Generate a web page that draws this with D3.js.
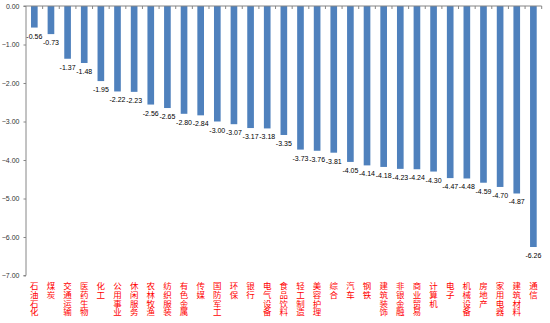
<!DOCTYPE html>
<html><head><meta charset="utf-8">
<script src="https://cdn.jsdelivr.net/npm/d3@7"></script>
<style>body{margin:0;background:#fff}svg{display:block}</style>
</head><body>
<script>
const categories = ["石油石化","煤炭","交通运输","医药生物","化工","公用事业","休闲服务","农林牧渔","纺织服装","有色金属","传媒","国防军工","环保","银行","电气设备","食品饮料","轻工制造","美容护理","综合","汽车","钢铁","建筑装饰","非银金融","商业贸易","计算机","电子","机械设备","房地产","家用电器","建筑材料","通信"];
const values = [-0.56,-0.73,-1.37,-1.48,-1.95,-2.22,-2.23,-2.56,-2.65,-2.80,-2.84,-3.00,-3.07,-3.17,-3.18,-3.35,-3.73,-3.76,-3.81,-4.05,-4.14,-4.18,-4.23,-4.24,-4.30,-4.47,-4.48,-4.59,-4.70,-4.87,-6.26];
const yTicks = [0,-1,-2,-3,-4,-5,-6,-7];

const W = 550, H = 323;
const svg = d3.select("body").append("svg").attr("width", W).attr("height", H);

const xb = d3.scaleBand().domain(categories).range([26, 541.7]);
const y = d3.scaleLinear().domain([0, -7]).range([6, 275.5]);

// bars
svg.selectAll("rect.bar").data(values).enter().append("rect")
  .attr("x", (d,i) => xb(categories[i]) + xb.bandwidth()*0.3)
  .attr("width", xb.bandwidth()*0.4)
  .attr("y", y(0))
  .attr("height", d => y(d) - y(0))
  .attr("fill", "#4f81bd");

// y axis
const yAxis = d3.axisLeft(y).tickValues(yTicks).tickSize(2.5).tickPadding(4).tickFormat(d3.format(".2f"));
const gy = svg.append("g").attr("transform", "translate(26,0)").call(yAxis);
gy.select(".domain").attr("stroke", "#868686").attr("d", "M-2.5,6H0V275.5H-2.5");
gy.selectAll(".tick line").attr("stroke", "#868686");
gy.selectAll(".tick text").attr("font-family", "Liberation Sans, Arial, sans-serif").attr("font-size", "7px").attr("fill", "#333");

// top category axis line with boundary ticks
const boundaries = categories.map(c => xb(c) + xb.bandwidth());
const gx = svg.append("g");
gx.append("line").attr("x1", 26).attr("x2", 541.7).attr("y1", y(0)).attr("y2", y(0)).attr("stroke", "#868686");
gx.selectAll("line.t").data(boundaries).enter().append("line")
  .attr("x1", d => d).attr("x2", d => d).attr("y1", y(0)).attr("y2", y(0) + 3)
  .attr("stroke", "#868686");

// value labels
svg.selectAll("text.val").data(values).enter().append("text")
  .attr("x", (d,i) => xb(categories[i]) + xb.bandwidth()/2)
  .attr("y", d => y(d) + 11)
  .attr("text-anchor", "middle")
  .attr("font-family", "Liberation Sans, Arial, sans-serif")
  .attr("font-size", "7px")
  .attr("fill", "#000")
  .text(d => d.toFixed(2));

// category labels: one vertical-mode text per character, red
const chars = [];
categories.forEach(c => Array.from(c).forEach((ch, k) => chars.push({c, ch, k})));
svg.selectAll("text.cat").data(chars).enter().append("text")
  .attr("class", "cat")
  .attr("x", d => xb(d.c) + xb.bandwidth()/2)
  .attr("y", d => 281.5 + d.k*8.8)
  .style("writing-mode", "vertical-rl")
  .attr("text-anchor", "start")
  .attr("font-family", "'Noto Sans CJK SC', sans-serif")
  .attr("font-size", "8.5px")
  .attr("fill", "#ff0000")
  .text(d => d.ch);
</script>
</body></html>
